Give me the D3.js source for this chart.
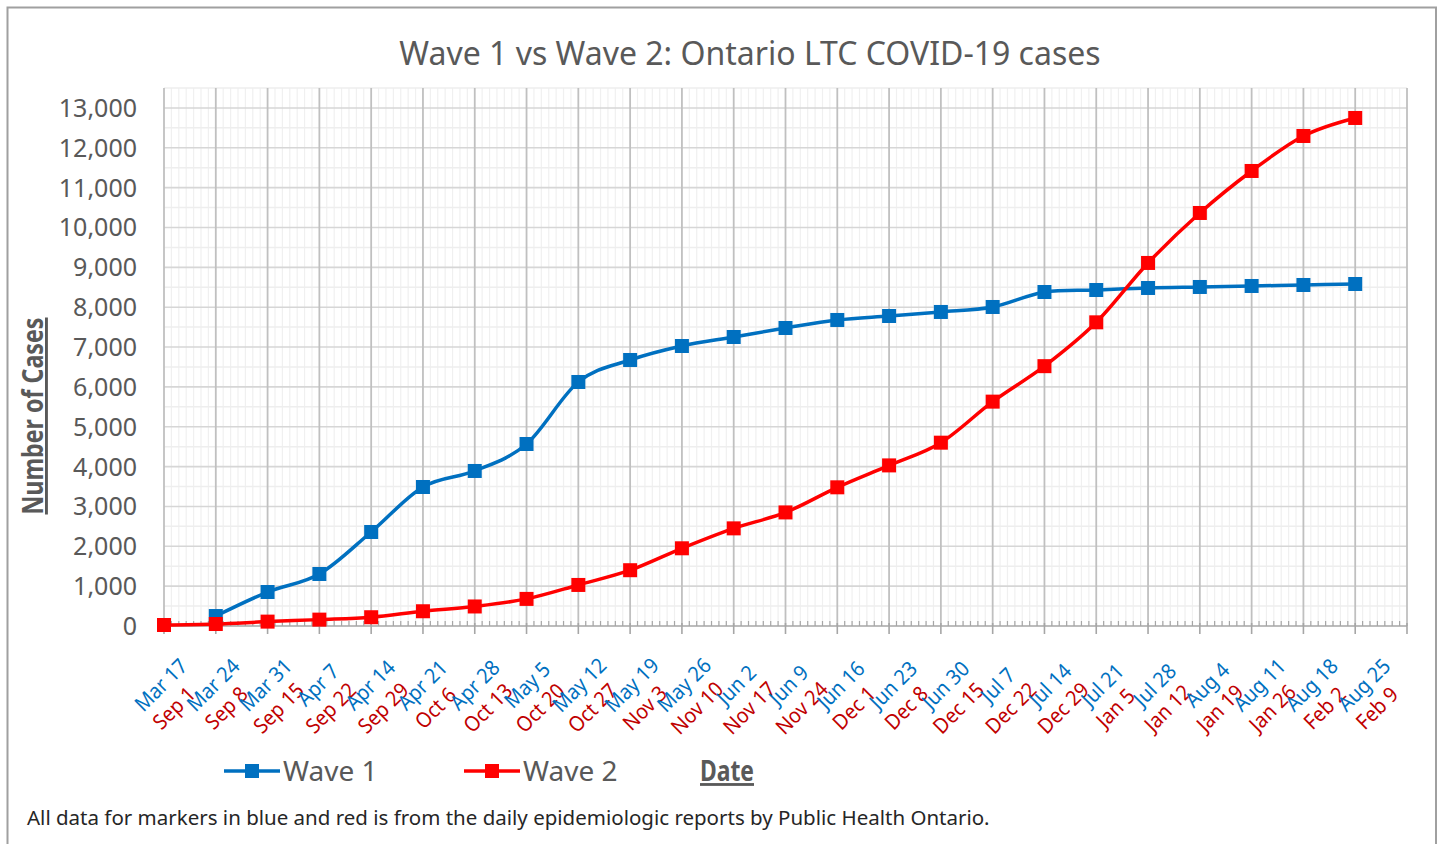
<!DOCTYPE html>
<html>
<head>
<meta charset="utf-8">
<script src="https://cdn.jsdelivr.net/npm/d3@7"></script>
<style>
  body { margin: 0; background: #fff; }
  text { font-family: "Noto Sans", "Open Sans", sans-serif; }
</style>
</head>
<body>
<svg width="1440" height="844"></svg>
<script>
// weekly cumulative LTC cases, week 0 = Mar 17 (wave 1) / Sep 1 (wave 2)
const wave1Dates=['Mar 17','Mar 24','Mar 31','Apr 7','Apr 14','Apr 21','Apr 28','May 5','May 12','May 19','May 26','Jun 2','Jun 9','Jun 16','Jun 23','Jun 30','Jul 7','Jul 14','Jul 21','Jul 28','Aug 4','Aug 11','Aug 18','Aug 25'];
const wave2Dates=['Sep 1','Sep 8','Sep 15','Sep 22','Sep 29','Oct 6','Oct 13','Oct 20','Oct 27','Nov 3','Nov 10','Nov 17','Nov 24','Dec 1','Dec 8','Dec 15','Dec 22','Dec 29','Jan 5','Jan 12','Jan 19','Jan 26','Feb 2','Feb 9'];
const wave1Cases=[null,250,853,1305,2359,3488,3890,4567,6123,6675,7026,7252,7478,7679,7779,7880,8005,8381,8431,8482,8507,8532,8557,8582];
const wave2Cases=[25,50,110,160,220,370,490,680,1030,1400,1950,2450,2850,3480,4030,4600,5630,6520,7620,9110,10364,11418,12296,12748];
const yTicks=[0,1000,2000,3000,4000,5000,6000,7000,8000,9000,10000,11000,12000,13000];

const svg=d3.select('svg');
const textGrey='#595959';
const blue='#0070C0';
const red='#FF0000';

const plotLeft=164, plotRight=1407, plotTop=88, plotBottom=626;

// chart area border
svg.append('rect')
    .attr('x',7.5).attr('y',7.5)
    .attr('width',1428.5).attr('height',860)
    .attr('fill','none')
    .attr('stroke','#a0a0a0')
    .attr('stroke-width',2);

const x=d3.scaleLinear().domain([0,168]).range([plotLeft,plotRight]);
const y=d3.scaleLinear().domain([0,13500]).range([plotBottom,plotTop]);

// minor grid (daily / 500)
const grid=svg.append('g');
grid.selectAll('.vminor')
    .data(d3.range(0,169).filter(d=>d%7!==0))
    .join('line')
    .attr('x1',d=>x(d)).attr('x2',d=>x(d))
    .attr('y1',plotTop).attr('y2',plotBottom)
    .attr('stroke','#f0f0f0').attr('stroke-width',1.2);
grid.selectAll('.hminor')
    .data(d3.range(500,13501,1000))
    .join('line')
    .attr('x1',plotLeft).attr('x2',plotRight)
    .attr('y1',d=>y(d)).attr('y2',d=>y(d))
    .attr('stroke','#eeeeee').attr('stroke-width',1.5);
grid.selectAll('.hmajor')
    .data(yTicks.slice(1))
    .join('line')
    .attr('x1',plotLeft).attr('x2',plotRight)
    .attr('y1',d=>y(d)).attr('y2',d=>y(d))
    .attr('stroke','#d6d6d6').attr('stroke-width',1.6);
grid.selectAll('.vmajor')
    .data(d3.range(0,169,7))
    .join('line')
    .attr('x1',d=>x(d)).attr('x2',d=>x(d))
    .attr('y1',plotTop).attr('y2',plotBottom)
    .attr('stroke','#c0c0c0').attr('stroke-width',1.8);

// x axis line + ticks
svg.append('line')
    .attr('x1',plotLeft).attr('x2',plotRight)
    .attr('y1',plotBottom).attr('y2',plotBottom)
    .attr('stroke','#a6a6a6').attr('stroke-width',1.6);
svg.selectAll('.minortick')
    .data(d3.range(0,169).filter(d=>d%7!==0))
    .join('line')
    .attr('x1',d=>x(d)).attr('x2',d=>x(d))
    .attr('y1',plotBottom-5).attr('y2',plotBottom)
    .attr('stroke','#a6a6a6').attr('stroke-width',1.2);
svg.selectAll('.majortick')
    .data(d3.range(0,169,7))
    .join('line')
    .attr('x1',d=>x(d)).attr('x2',d=>x(d))
    .attr('y1',plotBottom-3).attr('y2',plotBottom+8)
    .attr('stroke','#a6a6a6').attr('stroke-width',1.6);

// y tick labels
svg.selectAll('.ylabel')
    .data(yTicks)
    .join('text')
    .attr('x',137)
    .attr('y',d=>y(d))
    .attr('dy','0.36em')
    .attr('text-anchor','end')
    .attr('font-size',25)
    .attr('fill',textGrey)
    .text(d=>d3.format(',')(d));

// two-line rotated date labels (slightly condensed, like the narrow original font)
const labelX=d3.scaleLinear().domain([0,23]).range([161,1364]);
const labels=svg.selectAll('.xlabel')
    .data(wave1Dates)
    .join('g')
    .attr('transform',(d,i)=>`translate(${labelX(i)},0)`);
labels.append('text')
    .attr('transform','translate(0,685) rotate(-45) scale(0.93,1)')
    .attr('dy','0.35em')
    .attr('text-anchor','middle')
    .attr('font-size',21)
    .attr('fill',blue)
    .text(d=>d);
labels.append('text')
    .attr('transform','translate(13,708) rotate(-45) scale(0.93,1)')
    .attr('dy','0.35em')
    .attr('text-anchor','middle')
    .attr('font-size',21)
    .attr('fill','#C00000')
    .text((d,i)=>wave2Dates[i]);

// series
const line=d3.line()
    .defined(d=>d.v!=null)
    .x(d=>x(d.week*7))
    .y(d=>y(d.v))
    .curve(d3.curveCardinal.tension(0));

const series=[
    {name:'Wave 1',color:blue,values:wave1Cases.map((v,i)=>({week:i,v:v}))},
    {name:'Wave 2',color:red,values:wave2Cases.map((v,i)=>({week:i,v:v}))}
];

series.forEach(s=>{
    const pts=s.values.filter(d=>d.v!=null);
    svg.append('path')
        .attr('d',line(pts))
        .attr('fill','none')
        .attr('stroke',s.color)
        .attr('stroke-width',3.5);
    svg.selectAll(null)
        .data(pts)
        .join('rect')
        .attr('x',d=>x(d.week*7)-7)
        .attr('y',d=>y(d.v)-7)
        .attr('width',14).attr('height',14)
        .attr('fill',s.color);
});

// title
svg.append('text')
    .attr('x',750).attr('y',65)
    .attr('text-anchor','middle')
    .attr('font-size',32)
    .attr('fill',textGrey)
    .text('Wave 1 vs Wave 2: Ontario LTC COVID-19 cases');

// y axis title
svg.append('text')
    .attr('transform','translate(43,416) rotate(-90)')
    .attr('text-anchor','middle')
    .attr('font-size',29)
    .attr('font-weight','bold')
    .attr('text-decoration','underline')
    .attr('textLength',197)
    .attr('lengthAdjust','spacingAndGlyphs')
    .attr('fill',textGrey)
    .text('Number of Cases');

// legend
const legend=svg.append('g');
const legendX=[224,464];
series.forEach((s,i)=>{
    const lx=legendX[i];
    legend.append('line')
        .attr('x1',lx).attr('x2',lx+56)
        .attr('y1',771).attr('y2',771)
        .attr('stroke',s.color).attr('stroke-width',3.5);
    legend.append('rect')
        .attr('x',lx+21).attr('y',764)
        .attr('width',14).attr('height',14)
        .attr('fill',s.color);
    legend.append('text')
        .attr('x',lx+59).attr('y',771)
        .attr('dy','0.36em')
        .attr('font-size',28)
        .attr('fill',textGrey)
        .text(s.name);
});
legend.append('text')
    .attr('x',700).attr('y',771)
    .attr('dy','0.36em')
    .attr('font-size',28)
    .attr('font-weight','bold')
    .attr('text-decoration','underline')
    .attr('textLength',54)
    .attr('lengthAdjust','spacingAndGlyphs')
    .attr('fill',textGrey)
    .text('Date');

// footnote
svg.append('text')
    .attr('x',27).attr('y',825)
    .attr('font-size',20.5)
    .attr('fill','#262626')
    .text('All data for markers in blue and red is from the daily epidemiologic reports by Public Health Ontario.');
</script>
</body>
</html>
